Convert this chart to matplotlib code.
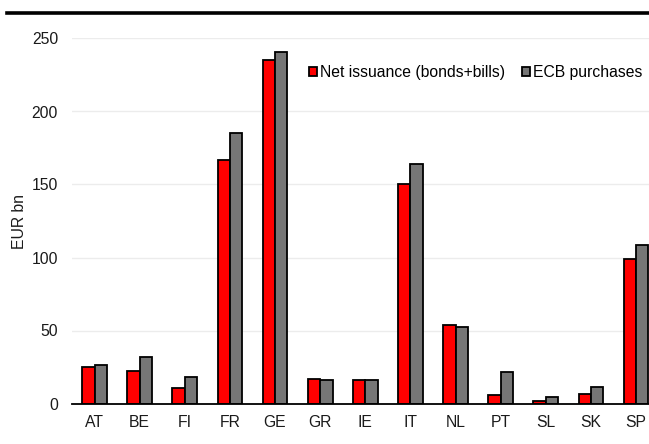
import matplotlib
matplotlib.use("Agg")
import matplotlib.pyplot as plt
import numpy as np
from matplotlib.lines import Line2D

plt.rcParams['font.family'] = ['Liberation Sans', 'DejaVu Sans']

countries = ["AT", "BE", "FI", "FR", "GE", "GR", "IE", "IT", "NL", "PT", "SL", "SK", "SP"]
net_issuance = [25.0, 22.0, 10.5, 166.5, 235.5, 17.0, 16.0, 150.0, 53.5, 5.8, 1.4, 6.8, 98.8]
ecb_purchases = [26.2, 32.0, 18.0, 185.0, 241.0, 16.2, 15.8, 163.8, 52.3, 21.7, 4.3, 11.0, 108.8]
yticks = [0, 50, 100, 150, 200, 250]

FS = 11.3
TXT = "#1a1a1a"

fig = plt.figure(figsize=(6.49, 4.44), dpi=100)
ax = fig.add_axes([72 / 649, (444 - 403.5) / 444, (658.6 - 72) / 649, (403.5 - 38.5) / 444])

x = np.arange(len(countries))
w = 0.275
ax.bar(x - w / 2, net_issuance, w, color="#ff0000", edgecolor="black", linewidth=1.3,
       label="Net issuance (bonds+bills)", zorder=3)
ax.bar(x + w / 2, ecb_purchases, w, color="#767676", edgecolor="black", linewidth=1.3,
       label="ECB purchases", zorder=3)

ax.set_xlim(-0.5, len(countries) - 0.5)
ax.set_ylim(0, 250)
ax.set_yticks(yticks)
ax.set_xticks(x)
ax.set_xticklabels(countries)
ax.tick_params(axis="both", length=0, labelsize=FS, colors=TXT)
ax.tick_params(axis="y", pad=10)
ax.tick_params(axis="x", pad=8)
ax.yaxis.grid(True, color="#ececec", linewidth=1.0, zorder=0)
ax.set_axisbelow(True)
for s in ["top", "right", "left"]:
    ax.spines[s].set_visible(False)
ax.spines["bottom"].set_color("black")
ax.spines["bottom"].set_linewidth(1.3)
ax.spines["bottom"].set_zorder(4)

ax.set_ylabel("EUR bn", fontsize=FS, color=TXT)
ax.yaxis.set_label_coords(-(72 - 27) / 586.6, 0.5)

leg = ax.legend(ncol=2, frameon=False, fontsize=FS, loc="center left",
                bbox_to_anchor=((309 - 72) / 586.6, (403.5 - 73) / 365),
                handlelength=0.5, handleheight=0.5, handletextpad=0.2,
                columnspacing=1.1, borderaxespad=0, borderpad=0)
for h in leg.legend_handles:
    h.set_linewidth(1.3)

fig.add_artist(Line2D([7 / 649, 1.0], [(444 - 13) / 444] * 2, color="black", linewidth=2.6))

fig.savefig("out.png", dpi=100)
